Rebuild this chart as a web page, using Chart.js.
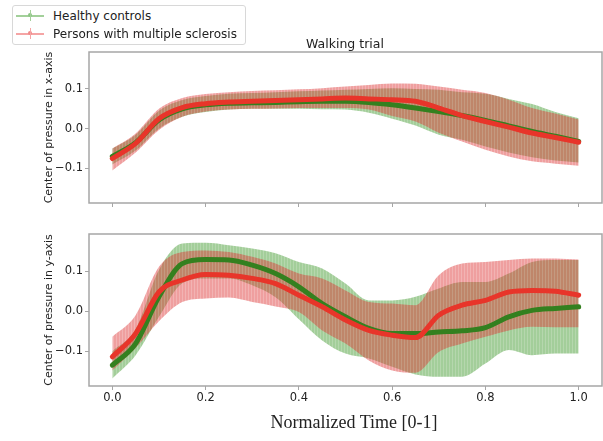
<!DOCTYPE html>
<html>
<head>
<meta charset="utf-8">
<script src="https://cdn.jsdelivr.net/npm/chart.js@4.4.1/dist/chart.umd.min.js"></script>
<style>
  body { margin: 0; background: #fff; }
  #fig { position: relative; width: 603px; height: 441px; overflow: hidden; font-family: 'DejaVu Sans', sans-serif; }
  .box { position: absolute; left: 0; width: 603px; }
  #legend { position: absolute; left: 12px; top: 5px; width: 232px; height: 38px; border: 1px solid #d8d8d8; border-radius: 3px; background: #fff; }
  .item { position: absolute; left: 0; height: 18px; font-size: 12px; color: #222; line-height: 18px; }
  .sym { position: absolute; left: 3px; top: 8px; width: 28px; height: 1.5px; }
  .sym i { position: absolute; left: 12px; top: -2px; width: 4px; height: 4px; border-radius: 50%; }
  .sym b { position: absolute; left: 13.5px; top: -5px; width: 1px; height: 11px; }
  .lbl { position: absolute; left: 40px; white-space: nowrap; }
  #title { position: absolute; top: 36px; left: 245px; width: 200px; text-align: center; font-size: 12.5px; color: #222; }
  #xlabel { position: absolute; top: 412px; left: 204px; width: 300px; text-align: center; font-family: 'Liberation Serif', serif; font-size: 18px; color: #222; }
</style>
</head>
<body>
<div id="fig">
  <div class="box" style="top:0;height:216px"><canvas id="chartX"></canvas></div>
  <div class="box" style="top:216px;height:225px"><canvas id="chartY"></canvas></div>
  <div id="legend">
    <div class="item" style="top:1px"><span class="sym" style="background:#a3d09a"><i style="background:#8cc483"></i><b style="background:#a3d09a"></b></span><span class="lbl">Healthy controls</span></div>
    <div class="item" style="top:19px"><span class="sym" style="background:#f5a5a5"><i style="background:#f08a8a"></i><b style="background:#f5a5a5"></b></span><span class="lbl">Persons with multiple sclerosis</span></div>
  </div>
  <div id="title">Walking trial</div>
  <div id="xlabel">Normalized Time [0-1]</div>
</div>
<script>
const tempo = [0, 0.05, 0.1, 0.15, 0.2, 0.25, 0.3, 0.35, 0.4, 0.45, 0.5,
    0.55, 0.6, 0.65, 0.7, 0.75, 0.8, 0.85, 0.9, 0.95, 1.0];

// centro de pressao no eixo x
const xSaudavelMedia = [-0.070, -0.035, 0.022, 0.050, 0.060, 0.064, 0.065, 0.066, 0.068, 0.069, 0.069,
    0.066, 0.060, 0.052, 0.043, 0.033, 0.021, 0.007, -0.007, -0.019, -0.032];
const xSaudavelSup = [-0.050, -0.015, 0.045, 0.072, 0.082, 0.088, 0.090, 0.092, 0.094, 0.096, 0.098,
    0.100, 0.102, 0.100, 0.098, 0.092, 0.088, 0.075, 0.062, 0.042, 0.026];
const xSaudavelInf = [-0.090, -0.055, 0.000, 0.030, 0.042, 0.048, 0.050, 0.050, 0.050, 0.049, 0.048,
    0.040, 0.025, 0.008, -0.015, -0.028, -0.045, -0.060, -0.072, -0.080, -0.085];
const xEmMedia = [-0.075, -0.037, 0.025, 0.053, 0.063, 0.067, 0.069, 0.071, 0.073, 0.075, 0.077,
    0.075, 0.073, 0.069, 0.052, 0.033, 0.018, 0.004, -0.011, -0.022, -0.034];
const xEmSup = [-0.050, -0.012, 0.050, 0.077, 0.087, 0.092, 0.095, 0.097, 0.099, 0.102, 0.106,
    0.110, 0.114, 0.113, 0.106, 0.098, 0.090, 0.073, 0.052, 0.038, 0.023];
const xEmInf = [-0.105, -0.060, -0.003, 0.030, 0.043, 0.048, 0.050, 0.051, 0.052, 0.052, 0.052,
    0.048, 0.032, 0.018, -0.010, -0.032, -0.053, -0.070, -0.082, -0.088, -0.093];

// centro de pressao no eixo y
const ySaudavelMedia = [-0.135, -0.081, 0.036, 0.119, 0.129, 0.128, 0.115, 0.094, 0.061, 0.019, -0.014,
    -0.043, -0.056, -0.056, -0.052, -0.049, -0.041, -0.014, 0.002, 0.007, 0.011];
const ySaudavelSup = [-0.100, -0.045, 0.103, 0.169, 0.171, 0.165, 0.157, 0.145, 0.123, 0.107, 0.069,
    0.027, 0.027, 0.036, 0.057, 0.073, 0.073, 0.094, 0.123, 0.128, 0.128];
const ySaudavelInf = [-0.168, -0.110, -0.014, 0.070, 0.082, 0.082, 0.065, 0.035, -0.020, -0.073, -0.106,
    -0.118, -0.139, -0.158, -0.164, -0.164, -0.131, -0.097, -0.110, -0.106, -0.106];
const yEmMedia = [-0.114, -0.056, 0.048, 0.078, 0.092, 0.090, 0.082, 0.069, 0.040, 0.011, -0.022,
    -0.048, -0.060, -0.066, -0.010, 0.015, 0.027, 0.048, 0.052, 0.050, 0.040];
const yEmSup = [-0.064, -0.010, 0.111, 0.148, 0.152, 0.148, 0.136, 0.119, 0.094, 0.082, 0.052,
    0.023, 0.019, 0.015, 0.090, 0.119, 0.123, 0.128, 0.132, 0.132, 0.129];
const yEmInf = [-0.148, -0.092, -0.025, 0.023, 0.032, 0.034, 0.023, 0.012, -0.002, -0.048, -0.081,
    -0.123, -0.148, -0.154, -0.102, -0.081, -0.064, -0.048, -0.039, -0.040, -0.040];

const ticksX = [0, 0.2, 0.4, 0.6, 0.8, 1.0];
const ticksY = [-0.1, 0, 0.1];

const corFrame = '#a6a6a6';

const pontos = arr => tempo.map((t, i) => ({ x: t, y: arr[i] }));

// listras verticais, imitando as barras de erro densas
function listras(r, g, b, a1, a2) {
    const c = document.createElement('canvas');
    c.width = 3;
    c.height = 4;
    const cx = c.getContext('2d');
    cx.fillStyle = `rgba(${r},${g},${b},${a1})`;
    cx.fillRect(0, 0, 2, 4);
    cx.fillStyle = `rgba(${r},${g},${b},${a2})`;
    cx.fillRect(2, 0, 1, 4);
    return cx.createPattern(c, 'repeat');
}

const moldura = {
    id: 'moldura',
    afterDatasetsDraw(chart) {
        const a = chart.chartArea, c = chart.ctx;
        c.save();
        c.strokeStyle = corFrame;
        c.lineWidth = 1.5;
        c.strokeRect(a.left, a.top, a.right - a.left, a.bottom - a.top);
        c.restore();
    }
};

function faixa(data, cor, ordem, preencher) {
    return {
        data: pontos(data),
        borderWidth: 0,
        pointRadius: 0,
        backgroundColor: cor,
        fill: preencher ? '-1' : false,
        cubicInterpolationMode: 'monotone',
        order: ordem
    };
}

function media(data, cor, ordem) {
    return {
        data: pontos(data),
        borderColor: cor,
        borderWidth: 5,
        pointRadius: 0,
        fill: false,
        cubicInterpolationMode: 'monotone',
        borderCapStyle: 'round',
        order: ordem
    };
}

function criarGrafico(id, s, o, titulo, comRotulos, padTopo, alturaX) {
    const verde = listras(60, 150, 40, 0.47, 0.38);
    const rosa = listras(222, 55, 55, 0.48, 0.38);
    return new Chart(document.getElementById(id), {
        type: 'line',
        data: {
            datasets: [
                faixa(s[1], verde, 3, false),
                faixa(s[2], verde, 3, true),
                faixa(o[1], rosa, 2, false),
                faixa(o[2], rosa, 2, true),
                media(s[0], '#34801f', 1),
                media(o[0], '#e8352a', 0)
            ]
        },
        plugins: [moldura],
        options: {
            responsive: true,
            maintainAspectRatio: false,
            animation: false,
            layout: { padding: { top: padTopo, right: 1, left: 0, bottom: 0 } },
            plugins: { legend: { display: false }, tooltip: { enabled: false } },
            scales: {
                x: {
                    type: 'linear',
                    min: -0.05,
                    max: 1.05,
                    afterBuildTicks: sc => { sc.ticks = ticksX.map(v => ({ value: v })); },
                    afterFit: sc => { sc.height = alturaX; },
                    border: { display: false },
                    grid: { drawOnChartArea: false, drawTicks: true, tickLength: 4, color: corFrame },
                    ticks: {
                        display: comRotulos,
                        maxRotation: 0,
                        padding: 1,
                        color: '#222',
                        font: { family: 'DejaVu Sans', size: 11.5 },
                        callback: v => v.toFixed(1)
                    }
                },
                y: {
                    type: 'linear',
                    min: -0.187,
                    max: 0.193,
                    afterBuildTicks: sc => { sc.ticks = ticksY.map(v => ({ value: v })); },
                    afterFit: sc => { sc.width = 89; },
                    border: { display: false },
                    grid: { drawOnChartArea: false, drawTicks: true, tickLength: 4, color: corFrame },
                    ticks: {
                        padding: 2,
                        color: '#222',
                        font: { family: 'DejaVu Sans', size: 11.5 },
                        callback: v => v.toFixed(1).replace('-', '\u2212')
                    },
                    title: {
                        display: true,
                        text: titulo,
                        color: '#222',
                        font: { family: 'DejaVu Sans', size: 11 },
                        padding: { top: 43, bottom: 0 }
                    }
                }
            }
        }
    });
}

criarGrafico('chartX',
    [xSaudavelMedia, xSaudavelSup, xSaudavelInf],
    [xEmMedia, xEmSup, xEmInf],
    'Center of pressure in x-axis', false, 52, 13);

criarGrafico('chartY',
    [ySaudavelMedia, ySaudavelSup, ySaudavelInf],
    [yEmMedia, yEmSup, yEmInf],
    'Center of pressure in y-axis', true, 18, 55);
</script>
</body>
</html>
